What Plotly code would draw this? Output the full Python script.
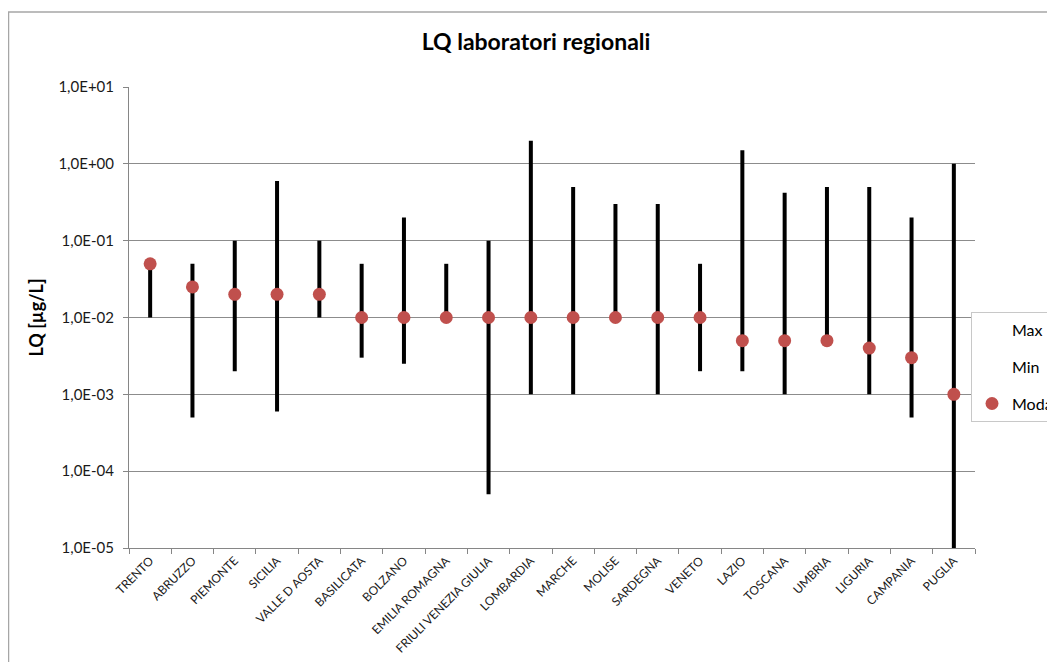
import plotly.graph_objects as go

categories = ["TRENTO", "ABRUZZO", "PIEMONTE", "SICILIA", "VALLE D AOSTA", "BASILICATA",
              "BOLZANO", "EMILIA ROMAGNA", "FRIULI VENEZIA GIULIA", "LOMBARDIA", "MARCHE",
              "MOLISE", "SARDEGNA", "VENETO", "LAZIO", "TOSCANA", "UMBRIA", "LIGURIA",
              "CAMPANIA", "PUGLIA"]
max_vals = [0.05, 0.05, 0.1, 0.6, 0.1, 0.05, 0.2, 0.05, 0.1, 2.0, 0.5,
            0.3, 0.3, 0.05, 1.5, 0.42, 0.5, 0.5, 0.2, 1.0]
min_vals = [0.01, 0.0005, 0.002, 0.0006, 0.01, 0.003, 0.0025, 0.01, 0.00005, 0.001, 0.001,
            0.01, 0.001, 0.002, 0.002, 0.001, 0.005, 0.001, 0.0005, 0.00001]
moda_vals = [0.05, 0.025, 0.02, 0.02, 0.02, 0.01, 0.01, 0.01, 0.01, 0.01, 0.01,
             0.01, 0.01, 0.01, 0.005, 0.005, 0.005, 0.004, 0.003, 0.001]
ytick_vals = [1e-5, 1e-4, 1e-3, 1e-2, 1e-1, 1e0, 1e1]
ytick_text = ["1,0E-05", "1,0E-04", "1,0E-03", "1,0E-02", "1,0E-01", "1,0E+00", "1,0E+01"]

FONT = "Lato"
OFF = 8  # page body margin offset
W, H = 1055 - 2 * OFF, 670 - 2 * OFF
L, T = 129 - OFF, 87 - OFF
R = W - (975 - OFF)
B = H - (548 - OFF)
PW, PH = W - L - R, H - T - B

err_plus = [mx - md for mx, md in zip(max_vals, moda_vals)]
err_minus = [md - mn for md, mn in zip(moda_vals, min_vals)]

fig = go.Figure()
fig.add_trace(go.Scatter(
    x=categories, y=max_vals, name="Max", mode="markers",
    marker=dict(color="rgba(0,0,0,0)", size=10), legendgroup="a", hoverinfo="skip"))
fig.add_trace(go.Scatter(
    x=categories, y=min_vals, name="Min", mode="markers",
    marker=dict(color="rgba(0,0,0,0)", size=10), legendgroup="b", hoverinfo="skip"))
fig.add_trace(go.Scatter(
    x=categories, y=moda_vals, name="Moda", mode="markers",
    marker=dict(color="#C0504D", size=13),
    error_y=dict(type="data", symmetric=False, array=err_plus, arrayminus=err_minus,
                 color="black", thickness=4, width=0),
    legendgroup="c"))

fig.update_layout(
    width=W, height=H,
    margin=dict(l=L, r=R, t=T, b=B, autoexpand=False),
    paper_bgcolor="white", plot_bgcolor="white",
    font=dict(family=FONT, color="#1a1a1a"),
    title=dict(text="<b>LQ laboratori regionali</b>", x=(536 - OFF) / W, xref="container",
               y=1 - (42 - OFF) / H, yref="container", xanchor="center", yanchor="middle",
               font=dict(size=23, family=FONT, color="black")),
    showlegend=True,
    legend=dict(x=(971 - OFF - L) / PW, y=(548 - 312) / PH,
                xanchor="left", yanchor="top", bordercolor="#c8c8c8", borderwidth=1,
                font=dict(size=16, family=FONT, color="black"),
                traceorder="grouped", tracegroupgap=13, bgcolor="white",
                itemwidth=30),
    shapes=[dict(type="rect", xref="paper", yref="paper",
                 x0=-(L - 0.5) / PW, x1=1.2, y0=-0.5, y1=1 + (T - (12 - OFF)) / PH,
                 line=dict(color="#a6a6a6", width=1.5), fillcolor="rgba(0,0,0,0)",
                 layer="below")],
)
fig.update_xaxes(
    type="category", tickangle=-45, tickfont=dict(size=12, family=FONT, color="#1a1a1a"),
    showline=True, linecolor="#868686", linewidth=1,
    ticks="outside", tickson="boundaries", ticklen=5, tickcolor="#868686",
    showgrid=False, range=[-0.5, len(categories) - 0.5])
fig.update_yaxes(
    type="log", range=[-5, 1], tickvals=ytick_vals, ticktext=ytick_text,
    tickfont=dict(size=15, family=FONT, color="#1a1a1a"), ticklabelstandoff=6,
    showline=True, linecolor="#868686", linewidth=1,
    ticks="outside", ticklen=5, tickcolor="#868686",
    showgrid=True, gridcolor="#8c8c8c", gridwidth=1, zeroline=False,
    title=dict(text="<b>LQ [µg/L]</b>", font=dict(size=18, family=FONT, color="black"),
               standoff=10))

fig.write_html("out.html")
